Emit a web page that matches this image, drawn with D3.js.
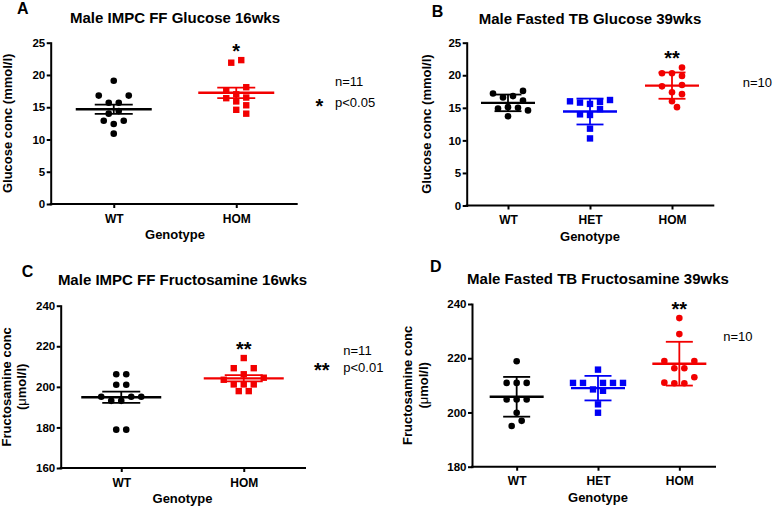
<!doctype html>
<html>
<head>
<meta charset="utf-8">
<title>Glucose and fructosamine by genotype</title>
<script src="https://cdnjs.cloudflare.com/ajax/libs/d3/7.8.5/d3.min.js"></script>
<style>
  body { margin: 0; background: #fff; }
  svg { display: block; font-family: "Liberation Sans", Arial, Helvetica, sans-serif; }
  .axis path, .axis line { stroke: #000; stroke-width: 2; }
  .axis path { stroke-linecap: square; }
  .axis text { font-weight: bold; fill: #000; font-family: "Liberation Sans", Arial, sans-serif; }
  .y.axis text { font-size: 11.5px; }
  .x.axis text { font-size: 12px; }
  .title { font-size: 15px; font-weight: bold; }
  .letter { font-size: 16px; font-weight: bold; }
  .lab { font-size: 13px; font-weight: bold; }
  .note { font-size: 13px; }
  .star { font-size: 20px; font-weight: bold; }
</style>
</head>
<body>
<svg id="chart" width="780" height="508"></svg>
<script>
// genotype groups
var groups2 = ["WT", "HOM"];
var groups3 = ["WT", "HET", "HOM"];

// glucose (mmol/l), IMPC FF, 16 wks
var glucose16WT  = [19.1, 16.8, 16.8, 15.7, 15.7, 14.4, 14.0, 12.9, 12.9, 12.4, 10.9];
var glucose16HOM = [22.3, 21.9, 18.1, 17.6, 17.0, 16.5, 16.4, 15.9, 15.3, 14.6, 14.0];

// glucose (mmol/l), fasted TB, 39 wks
var glucose39WT  = [17.6, 17.2, 16.8, 16.6, 16.1, 15.1, 15.0, 14.9, 14.6, 13.7];
var glucose39HET = [16.2, 16.0, 15.9, 15.8, 15.6, 14.8, 14.0, 13.9, 11.8, 10.3];
var glucose39HOM = [21.2, 20.3, 20.3, 19.9, 18.5, 18.3, 17.4, 17.1, 16.0, 15.1];

// fructosamine (umol/l), IMPC FF, 16 wks
var fructo16WT  = [206.2, 206.2, 201.0, 201.0, 195.1, 195.1, 195.1, 193.1, 193.1, 178.9, 178.9];
var fructo16HOM = [214.2, 209.2, 209.2, 206.2, 204.5, 203.5, 201.2, 201.2, 201.2, 197.9, 197.9];

// fructosamine (umol/l), fasted TB, 39 wks
var fructo39WT  = [218.9, 210.9, 210.9, 210.9, 204.8, 204.8, 204.8, 199.9, 196.9, 195.0];
var fructo39HET = [215.8, 210.9, 210.9, 210.9, 210.9, 210.9, 208.5, 208.0, 203.0, 199.9];
var fructo39HOM = [234.8, 228.9, 219.0, 219.0, 216.3, 216.3, 213.0, 211.0, 210.8, 210.8];

// axis ticks
var glucoseTicks  = [0, 5, 10, 15, 20, 25];
var fructo16Ticks = [160, 180, 200, 220, 240];
var fructo39Ticks = [180, 200, 220, 240];

var BLACK = "#000", RED = "#f20000", BLUE = "#0000f5";

// layout for the four panels
var panels = [
  { letter: "A", lx: 17, ly: 13.5, title: "Male IMPC FF Glucose 16wks", ty: 22.5,
    groups: groups2, series: [glucose16WT, glucose16HOM],
    shapes: ["circle", "square"], colors: [BLACK, RED], err: "sem",
    ticks: glucoseTicks, yb: 204, yt: 42.7, x0: 50.7, x1: 296.7, c0: 52.5, c1: 297.5,
    meanHalf: 38, capHalf: 19,
    ylab: [{ t: "Glucose conc (mmol/l)", x: 12.3 }],
    star: "*",
    notes: [{ t: "n=11", x: 335, y: 86 }, { t: "p<0.05", x: 335, y: 106.5 }],
    sideStar: { t: "*", x: 319.3, y: 104.7 } },
  { letter: "B", lx: 431.7, ly: 16.7, title: "Male Fasted TB Glucose 39wks", ty: 23.7,
    groups: groups3, series: [glucose39WT, glucose39HET, glucose39HOM],
    shapes: ["circle", "square", "circle"], colors: [BLACK, BLUE, RED], err: "sd",
    ticks: glucoseTicks, yb: 205.5, yt: 42.7, x0: 466.7, x1: 713.3, c0: 467, c1: 713,
    meanHalf: 27, capHalf: 13.5,
    ylab: [{ t: "Glucose conc (mmol/l)", x: 430.7 }],
    star: "**",
    notes: [{ t: "n=10", x: 742.7, y: 87 }] },
  { letter: "C", lx: 21.7, ly: 277.3, title: "Male IMPC FF Fructosamine 16wks", ty: 285,
    groups: groups2, series: [fructo16WT, fructo16HOM],
    shapes: ["circle", "square"], colors: [BLACK, RED], err: "sem",
    ticks: fructo16Ticks, yb: 468, yt: 305.7, x0: 60.7, x1: 305, c0: 60, c1: 305,
    meanHalf: 40, capHalf: 19,
    ylab: [{ t: "Fructosamine conc", x: 10.5 }, { t: "(\u03bcmol/l)", x: 25.8, mu: true }],
    star: "**",
    notes: [{ t: "n=11", x: 343.3, y: 355 }, { t: "p<0.01", x: 343.3, y: 371.5 }],
    sideStar: { t: "**", x: 321.7, y: 368.3 } },
  { letter: "D", lx: 430, ly: 272.3, title: "Male Fasted TB Fructosamine 39wks", ty: 284,
    groups: groups3, series: [fructo39WT, fructo39HET, fructo39HOM],
    shapes: ["circle", "square", "circle"], colors: [BLACK, BLUE, RED], err: "sd",
    ticks: fructo39Ticks, yb: 466.7, yt: 304, x0: 472, x1: 715, c0: 476, c1: 720,
    meanHalf: 27, capHalf: 13.5,
    ylab: [{ t: "Fructosamine conc", x: 412 }, { t: "(\u03bcmol/l)", x: 427.5, mu: true }],
    star: "**",
    notes: [{ t: "n=10", x: 723.3, y: 340.5 }] }
];

var svg = d3.select("#chart");

// column scatter: rows of close values are spread symmetrically,
// falling back to a greedy half-step search when a row would overlap
function swarm(values, y, step, minDist) {
  var pts = values.map(function(v) { return { v: v, y: y(v) }; })
    .sort(function(a, b) { return a.y - b.y; });
  var placed = [];
  function free(p, dx) {
    return placed.every(function(q) {
      return Math.hypot(dx - q.dx, p.y - q.y) >= minDist;
    });
  }
  var i = 0;
  while (i < pts.length) {
    var j = i + 1;
    while (j < pts.length && pts[j].y - pts[i].y <= 7.5) j++;
    var row = pts.slice(i, j), n = row.length;
    var slots = d3.range(n).map(function(k) { return (k - (n - 1) / 2) * step; })
      .sort(function(a, b) { return Math.abs(b) - Math.abs(a) || b - a; });
    var ok = row.every(function(p, k) { return free(p, slots[k]); });
    if (ok) {
      // also check the row against itself
      row.forEach(function(p, k) { p.dx = slots[k]; });
      for (var a = 0; a < n && ok; a++)
        for (var b = a + 1; b < n; b++)
          if (Math.hypot(row[a].dx - row[b].dx, row[a].y - row[b].y) < minDist) { ok = false; break; }
    }
    if (ok) {
      placed = placed.concat(row);
    } else {
      row.forEach(function(p) {
        for (var k = 0; k < 20; k++) {
          var dx = (k % 2 ? 1 : -1) * Math.ceil(k / 2) * step / 2;
          if (k === 0) dx = 0;
          if (free(p, dx)) { p.dx = dx; break; }
        }
        placed.push(p);
      });
    }
    i = j;
  }
  return placed;
}

panels.forEach(function(p) {
  var g = svg.append("g");
  var y = d3.scaleLinear().domain([p.ticks[0], p.ticks[p.ticks.length - 1]]).range([p.yb, p.yt]);
  var x = d3.scalePoint().domain(p.groups).range([p.c0, p.c1]).padding(0.5);
  var mid = (p.c0 + p.c1) / 2;

  // axes
  g.append("g").attr("class", "y axis")
    .attr("transform", "translate(" + p.x0 + ",0)")
    .call(d3.axisLeft(y).tickValues(p.ticks).tickSize(4).tickPadding(1.5).tickSizeOuter(0));
  var xa = g.append("g").attr("class", "x axis")
    .attr("transform", "translate(0," + p.yb + ")")
    .call(d3.axisBottom(x).tickSize(4).tickPadding(6).tickSizeOuter(0));
  xa.select(".domain").attr("d", "M" + p.x0 + ",0H" + p.x1);

  // points
  p.series.forEach(function(vals, gi) {
    var cx = x(p.groups[gi]);
    var col = p.colors[gi];
    var pts = swarm(vals, y, 10, 7);
    if (p.shapes[gi] === "circle") {
      g.selectAll(null).data(pts).enter().append("circle")
        .attr("cx", function(d) { return cx + d.dx; })
        .attr("cy", function(d) { return d.y; })
        .attr("r", 3.3).attr("fill", col);
    } else {
      g.selectAll(null).data(pts).enter().append("rect")
        .attr("x", function(d) { return cx + d.dx - 3.2; })
        .attr("y", function(d) { return d.y - 3.2; })
        .attr("width", 6.4).attr("height", 6.4).attr("fill", col);
    }

    // mean with SEM or SD
    var m = d3.mean(vals), sd = d3.deviation(vals);
    var e = p.err === "sem" ? sd / Math.sqrt(vals.length) : sd;
    var eg = g.append("g").attr("stroke", col).attr("fill", "none");
    eg.append("line").attr("x1", cx - p.meanHalf).attr("x2", cx + p.meanHalf)
      .attr("y1", y(m)).attr("y2", y(m)).attr("stroke-width", 2.4);
    eg.append("line").attr("x1", cx).attr("x2", cx)
      .attr("y1", y(m - e)).attr("y2", y(m + e)).attr("stroke-width", 1.8);
    [m - e, m + e].forEach(function(v) {
      eg.append("line").attr("x1", cx - p.capHalf).attr("x2", cx + p.capHalf)
        .attr("y1", y(v)).attr("y2", y(v)).attr("stroke-width", 1.8);
    });

    // significance stars over HOM
    if (p.groups[gi] === "HOM") {
      g.append("text").attr("class", "star").attr("text-anchor", "middle")
        .attr("x", cx).attr("y", y(d3.max(vals)) - 2.5).text(p.star);
    }
  });

  // titles and labels
  g.append("text").attr("class", "letter").attr("x", p.lx).attr("y", p.ly).text(p.letter);
  g.append("text").attr("class", "title").attr("text-anchor", "middle")
    .attr("x", mid).attr("y", p.ty).text(p.title);
  g.append("text").attr("class", "lab").attr("text-anchor", "middle")
    .attr("x", mid).attr("y", p.yb + 35).text("Genotype");

  var yc = (p.yb + p.yt) / 2;
  p.ylab.forEach(function(l) {
    var t = g.append("text").attr("class", "lab").attr("text-anchor", "middle")
      .attr("transform", "translate(" + l.x + "," + yc + ") rotate(-90)");
    if (l.mu) {
      t.append("tspan").text("(");
      t.append("tspan").attr("font-weight", "normal").text("\u03bc");
      t.append("tspan").text("mol/l)");
    } else {
      t.text(l.t);
    }
  });

  p.notes.forEach(function(n) {
    g.append("text").attr("class", "note").attr("x", n.x).attr("y", n.y).text(n.t);
  });
  if (p.sideStar) {
    g.append("text").attr("class", "star").attr("text-anchor", "middle")
      .attr("x", p.sideStar.x).attr("y", p.sideStar.y + 8.5).text(p.sideStar.t);
  }
});
</script>
</body>
</html>
